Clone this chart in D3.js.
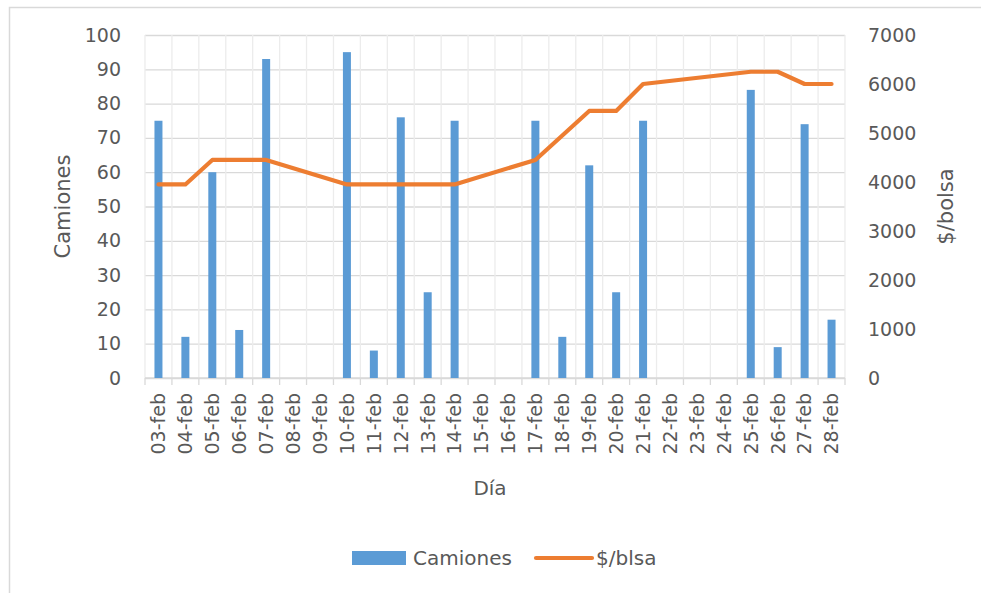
<!DOCTYPE html>
<html>
<head>
<meta charset="utf-8">
<script src="https://cdn.jsdelivr.net/npm/d3@7"></script>
<style>
  html, body { margin: 0; padding: 0; background: #ffffff; }
  svg { display: block; }
  text { font-family: "DejaVu Sans", sans-serif; fill: #595959; }
</style>
</head>
<body>
<svg id="chart" width="981" height="593"></svg>
<script>
// ---- data ----
const days = ["03-feb","04-feb","05-feb","06-feb","07-feb","08-feb","09-feb","10-feb","11-feb","12-feb","13-feb","14-feb","15-feb","16-feb","17-feb","18-feb","19-feb","20-feb","21-feb","22-feb","23-feb","24-feb","25-feb","26-feb","27-feb","28-feb"];
const camiones = [75,12,60,14,93,null,null,95,8,76,25,75,null,null,75,12,62,25,75,null,null,null,84,9,74,17];
const precio = [3950,3950,4450,4450,4450,null,null,3950,3950,3950,3950,3950,null,null,4450,4950,5450,5450,6000,null,null,null,6250,6250,6000,6000];
const leftTicks = [0,10,20,30,40,50,60,70,80,90,100];
const rightTicks = [0,1000,2000,3000,4000,5000,6000,7000];
const seriesNames = ["Camiones", "$/blsa"];
const leftTitle = "Camiones";
const rightTitle = "$/bolsa";
const xTitle = "Día";

// ---- layout ----
const svg = d3.select("#chart");
const L = 145, R = 845, T = 35, B = 378;
const blue = "#5B9BD5", orange = "#ED7D31", grid = "#d9d9d9";

// outer frame (left and top edges visible)
svg.append("rect").attr("x", 9.5).attr("y", 7.5).attr("width", 1000).attr("height", 1000)
  .attr("fill", "none").attr("stroke", "#d9d9d9").attr("stroke-width", 1.5);

const x = d3.scaleBand().domain(days).range([L, R]).padding(0);
const yL = d3.scaleLinear().domain([0, 100]).range([B, T]);
const yR = d3.scaleLinear().domain([0, 7000]).range([B, T]);

// horizontal gridlines
svg.append("g").attr("transform", `translate(${L},0)`)
  .call(d3.axisLeft(yL).tickValues(leftTicks).tickSize(-(R - L)).tickFormat(""))
  .call(g => g.select(".domain").remove())
  .call(g => g.selectAll("line").attr("stroke", grid).attr("stroke-width", 1.3));

// vertical gridlines at category boundaries
const bounds = days.map(d => x(d)).concat([x(days[days.length - 1]) + x.bandwidth()]);
svg.append("g").selectAll("line").data(bounds).join("line")
  .attr("x1", d => d).attr("x2", d => d).attr("y1", T).attr("y2", B)
  .attr("stroke", "#ececec").attr("stroke-width", 1.3);

// x axis line + tick marks
svg.append("line").attr("x1", L).attr("x2", R).attr("y1", B).attr("y2", B)
  .attr("stroke", grid).attr("stroke-width", 1.5);
svg.append("g").selectAll("line").data(bounds).join("line")
  .attr("x1", d => d).attr("x2", d => d).attr("y1", B).attr("y2", B + 7)
  .attr("stroke", grid).attr("stroke-width", 1.3);

// bars
const barW = 8;
svg.append("g").selectAll("rect").data(days.map((d, i) => ({ d, v: camiones[i] })).filter(e => e.v !== null))
  .join("rect")
  .attr("x", e => x(e.d) + x.bandwidth() / 2 - barW / 2)
  .attr("y", e => yL(e.v))
  .attr("width", barW)
  .attr("height", e => yL(0) - yL(e.v))
  .attr("fill", blue);

// line (gaps connected)
const pts = days.map((d, i) => ({ d, v: precio[i] })).filter(e => e.v !== null);
svg.append("path").datum(pts)
  .attr("d", d3.line().x(e => x(e.d) + x.bandwidth() / 2).y(e => yR(e.v)))
  .attr("fill", "none").attr("stroke", orange).attr("stroke-width", 4.2)
  .attr("stroke-linejoin", "round").attr("stroke-linecap", "round");

// left axis labels
svg.append("g").attr("transform", `translate(${L},0)`)
  .call(d3.axisLeft(yL).tickValues(leftTicks).tickSize(0).tickPadding(24))
  .call(g => g.select(".domain").remove())
  .call(g => g.selectAll("text").style("font-size", "19px").attr("fill", "#595959").style("font-family", "DejaVu Sans, sans-serif"));

// right axis labels
svg.append("g").attr("transform", `translate(${R},0)`)
  .call(d3.axisRight(yR).tickValues(rightTicks).tickSize(0).tickPadding(23).tickFormat(d3.format("d")))
  .call(g => g.select(".domain").remove())
  .call(g => g.selectAll("text").style("font-size", "19px").attr("fill", "#595959").style("font-family", "DejaVu Sans, sans-serif"));

// x labels rotated
svg.append("g").selectAll("text").data(days).join("text")
  .attr("transform", d => `translate(${x(d) + x.bandwidth() / 2},${B + 15}) rotate(-90)`)
  .attr("text-anchor", "end").attr("dy", "0.36em")
  .style("font-size", "19px")
  .text(d => d);

// axis titles
svg.append("text").attr("transform", `translate(62,${(T + B) / 2}) rotate(-90)`)
  .attr("text-anchor", "middle").attr("dy", "0.36em").style("font-size", "21px").text(leftTitle);
svg.append("text").attr("transform", `translate(945,${(T + B) / 2}) rotate(-90)`)
  .attr("text-anchor", "middle").attr("dy", "0.36em").style("font-size", "21px").text(rightTitle);
svg.append("text").attr("x", 490).attr("y", 495)
  .attr("text-anchor", "middle").style("font-size", "20px").text(xTitle);

// legend
const lg = svg.append("g");
lg.append("rect").attr("x", 352).attr("y", 551).attr("width", 54).attr("height", 14).attr("fill", blue);
lg.append("text").attr("x", 413).attr("y", 565).style("font-size", "20px").text(seriesNames[0]);
lg.append("line").attr("x1", 536).attr("x2", 592).attr("y1", 558).attr("y2", 558)
  .attr("stroke", orange).attr("stroke-width", 4.2).attr("stroke-linecap", "round");
lg.append("text").attr("x", 596).attr("y", 565).style("font-size", "20px").text(seriesNames[1]);
</script>
</body>
</html>
